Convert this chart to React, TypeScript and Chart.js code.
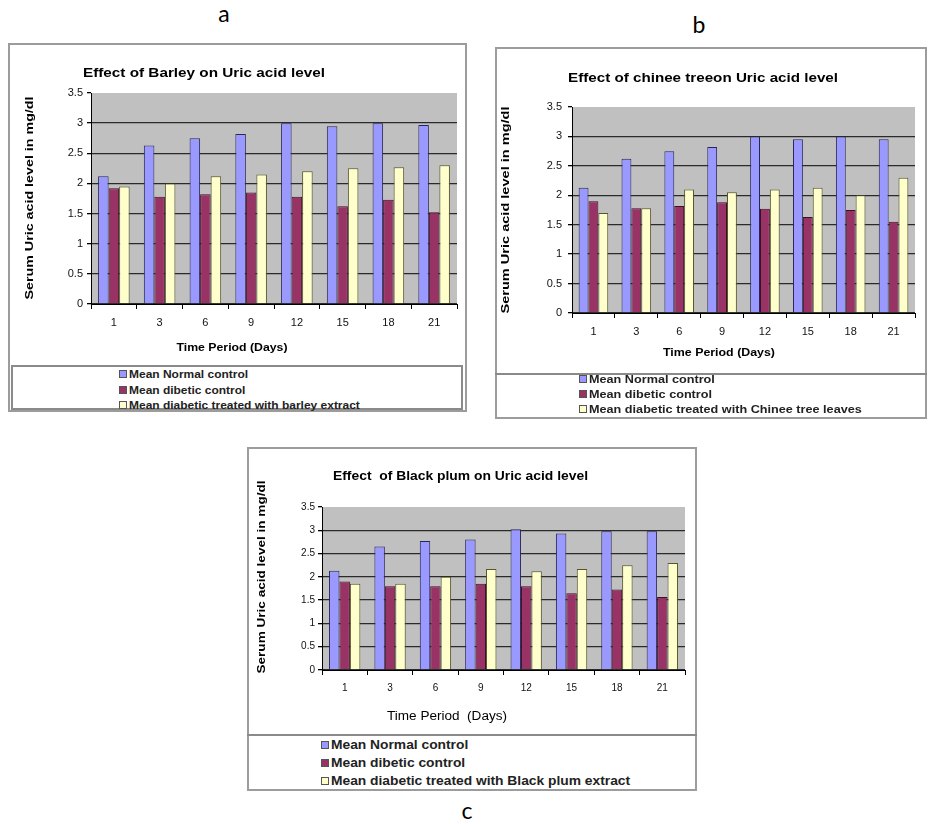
import React, { useEffect, useRef } from "react";
import { Chart, registerables } from "chart.js";

Chart.register(...registerables);

// ---------- data ----------
const days = ["1", "3", "6", "9", "12", "15", "18", "21"];

const seriesNames = ["Mean Normal control", "Mean dibetic control"];

const barleyNormal = [2.12, 2.63, 2.75, 2.82, 3.0, 2.95, 3.0, 2.97];
const barleyDiabetic = [1.92, 1.78, 1.82, 1.85, 1.78, 1.62, 1.73, 1.52];
const barleyTreated = [1.95, 2.0, 2.12, 2.15, 2.2, 2.25, 2.27, 2.3];

const chineeNormal = [2.13, 2.62, 2.75, 2.82, 3.0, 2.95, 3.0, 2.95];
const chineeDiabetic = [1.9, 1.78, 1.82, 1.88, 1.77, 1.63, 1.75, 1.55];
const chineeTreated = [1.7, 1.78, 2.1, 2.05, 2.1, 2.13, 2.0, 2.3];

const plumNormal = [2.13, 2.65, 2.77, 2.8, 3.02, 2.93, 2.98, 2.98];
const plumDiabetic = [1.9, 1.8, 1.8, 1.85, 1.8, 1.65, 1.73, 1.57];
const plumTreated = [1.85, 1.85, 2.0, 2.17, 2.12, 2.17, 2.25, 2.3];

const yMin = 0;
const yMax = 3.5;
const yStep = 0.5;

// ---------- styles ----------
const FONT = "'Liberation Sans', Arial, sans-serif";
const COLORS = ["#9999FF", "#993366", "#FFFFCC"];
const EDGES = ["#26265a", "#3a1026", "#55552a"];
const PLOT_BG = "#C0C0C0";

type TextItem = {
  text: string;
  x: number;
  y: number;
  font: string;
  align?: CanvasTextAlign;
  rotate?: boolean;
  width?: number;
};

const decorPlugin = {
  id: "panelDecor",
  beforeDraw(chart: any, _args: any, opts: any) {
    const { ctx, chartArea: a } = chart;
    ctx.save();
    ctx.fillStyle = opts.plotBg;
    ctx.fillRect(a.left, a.top, a.right - a.left, a.bottom - a.top);
    ctx.restore();
  },
  afterDraw(chart: any, _args: any, opts: any) {
    const { ctx } = chart;
    (opts.texts || []).forEach((t: TextItem) => {
      ctx.save();
      ctx.font = t.font;
      ctx.fillStyle = "#000";
      ctx.textBaseline = "middle";
      ctx.textAlign = t.align || "left";
      const m = ctx.measureText(t.text).width;
      const sx = t.width ? t.width / m : 1;
      ctx.translate(t.x, t.y);
      if (t.rotate) ctx.rotate(-Math.PI / 2);
      ctx.scale(sx, 1);
      ctx.fillText(t.text, 0, 0);
      ctx.restore();
    });
  },
};

type PanelProps = {
  box: { x: number; y: number; w: number; h: number };
  sepY: number;
  innerLegendBox?: boolean;
  yW: number;
  xH: number;
  topPad: number;
  rightPad: number;
  yTickPad: number;
  xTickPad: number;
  tickFont: number;
  texts: TextItem[];
  values: number[][];
  legendLabels: string[];
  legendRows: number[];
  legendX: number;
  legendFont: string;
  legendStretch: number;
};

function Panel(p: PanelProps) {
  const ref = useRef<HTMLCanvasElement | null>(null);
  const cw = p.box.w;
  const ch = p.sepY - p.box.y;

  useEffect(() => {
    if (!ref.current) return;
    const chart = new Chart(ref.current, {
      type: "bar",
      data: {
        labels: days,
        datasets: p.values.map((v, i) => ({
          label: p.legendLabels[i],
          data: v,
          backgroundColor: COLORS[i],
          borderColor: EDGES[i],
          borderWidth: 1,
          categoryPercentage: 0.69,
          barPercentage: 1.0,
        })),
      },
      options: {
        animation: false,
        responsive: false,
        devicePixelRatio: 1,
        layout: { padding: { left: 0, right: p.rightPad, top: p.topPad, bottom: 0 } },
        plugins: {
          legend: { display: false },
          title: { display: false },
          tooltip: { enabled: false },
          panelDecor: { plotBg: PLOT_BG, texts: p.texts },
        } as any,
        scales: {
          x: {
            afterFit: (s: any) => {
              s.height = p.xH;
            },
            grid: {
              offset: true,
              drawOnChartArea: false,
              drawTicks: true,
              tickLength: 5,
              color: "#000",
            },
            border: { display: true, color: "#000", width: 1 },
            ticks: {
              color: "#111",
              padding: p.xTickPad,
              font: { family: FONT, size: p.tickFont },
            },
          },
          y: {
            min: yMin,
            max: yMax,
            afterFit: (s: any) => {
              s.width = p.yW;
            },
            grid: {
              color: (c: any) =>
                c.tick && c.tick.value === yMax ? "rgba(0,0,0,0)" : "#2a2a2a",
              tickColor: "#000",
              tickLength: 4,
              drawTicks: true,
              lineWidth: 1.3,
            },
            border: { display: true, color: "#000", width: 1 },
            ticks: {
              stepSize: yStep,
              color: "#111",
              padding: p.yTickPad,
              font: { family: FONT, size: p.tickFont },
              callback: (v: any) => String(Number(v)),
            },
          },
        },
      },
      plugins: [decorPlugin as any],
    });
    return () => chart.destroy();
  }, []);

  return (
    <>
      <div
        style={{
          position: "absolute",
          left: p.box.x,
          top: p.box.y,
          width: p.box.w,
          height: p.box.h,
          border: "2px solid #9c9c9c",
          boxSizing: "border-box",
          background: "#fff",
        }}
      />
      <canvas
        ref={ref}
        width={cw}
        height={ch}
        style={{ position: "absolute", left: p.box.x, top: p.box.y, width: cw, height: ch }}
      />
      {p.innerLegendBox ? (
        <div
          style={{
            position: "absolute",
            left: p.box.x + 3,
            top: p.sepY,
            width: p.box.w - 7,
            height: p.box.y + p.box.h - p.sepY - 2,
            border: "2px solid #8a8a8a",
            boxSizing: "border-box",
          }}
        />
      ) : (
        <div
          style={{
            position: "absolute",
            left: p.box.x,
            top: p.sepY,
            width: p.box.w,
            height: 0,
            borderTop: "2px solid #8a8a8a",
          }}
        />
      )}
      {p.legendLabels.map((lab, i) => (
        <div
          key={i}
          style={{
            position: "absolute",
            left: p.legendX,
            top: p.legendRows[i] - 8,
            height: 16,
            display: "flex",
            alignItems: "center",
            whiteSpace: "nowrap",
            font: p.legendFont,
            color: "#222",
          }}
        >
          <span
            style={{
              display: "inline-block",
              width: 6,
              height: 6,
              background: COLORS[i],
              border: "1px solid #555",
              marginRight: 2,
            }}
          />
          <span
            style={{
              display: "inline-block",
              transform: `scaleX(${p.legendStretch})`,
              transformOrigin: "left center",
            }}
          >
            {lab}
          </span>
        </div>
      ))}
    </>
  );
}

export default function App() {
  const letter = (t: string, x: number, y: number) => (
    <div
      style={{
        position: "absolute",
        left: x - 20,
        top: y - 16,
        width: 40,
        height: 32,
        textAlign: "center",
        lineHeight: "32px",
        font: "23px Lato, 'Open Sans', sans-serif",
        color: "#000",
      }}
    >
      {t}
    </div>
  );

  return (
    <div style={{ position: "absolute", left: 0, top: 0, width: 930, height: 824, background: "#fff" }}>
      {letter("a", 224, 15)}
      {letter("b", 699, 26)}
      {letter("c", 467, 812)}
      <Panel
        box={{ x: 8, y: 43, w: 459, h: 369 }}
        sepY={365}
        innerLegendBox
        yW={83}
        xH={61}
        topPad={50}
        rightPad={10}
        yTickPad={4}
        xTickPad={7}
        tickFont={11}
        texts={[
          { text: "Effect of Barley on Uric acid level", x: 75, y: 30, font: `bold 13px ${FONT}`, width: 242 },
          { text: "Serum Uric acid level in mg/dl", x: 22, y: 155, font: `bold 11.5px ${FONT}`, align: "center", rotate: true, width: 203 },
          { text: "Time Period (Days)", x: 224, y: 305, font: `bold 11.5px ${FONT}`, align: "center", width: 111 },
        ]}
        values={[barleyNormal, barleyDiabetic, barleyTreated]}
        legendLabels={[...seriesNames, "Mean diabetic treated with barley extract"]}
        legendRows={[374, 390, 405]}
        legendX={119}
        legendFont={`bold 10.5px ${FONT}`}
        legendStretch={1.14}
      />
      <Panel
        box={{ x: 495, y: 47, w: 432, h: 372 }}
        sepY={373}
        yW={77}
        xH={60}
        topPad={60}
        rightPad={12}
        yTickPad={6}
        xTickPad={7}
        tickFont={11}
        texts={[
          { text: "Effect of chinee treeon Uric acid level", x: 73, y: 31, font: `bold 13px ${FONT}`, width: 270 },
          { text: "Serum Uric acid level in mg/dl", x: 11, y: 163, font: `bold 11.5px ${FONT}`, align: "center", rotate: true, width: 207 },
          { text: "Time Period (Days)", x: 224, y: 306, font: `bold 11.5px ${FONT}`, align: "center", width: 112 },
        ]}
        values={[chineeNormal, chineeDiabetic, chineeTreated]}
        legendLabels={[...seriesNames, "Mean diabetic treated with Chinee tree leaves"]}
        legendRows={[379, 394, 409]}
        legendX={579}
        legendFont={`bold 11px ${FONT}`}
        legendStretch={1.15}
      />
      <Panel
        box={{ x: 247, y: 447, w: 450, h: 344 }}
        sepY={734}
        yW={75}
        xH={64}
        topPad={60}
        rightPad={12}
        yTickPad={3}
        xTickPad={7}
        tickFont={10}
        texts={[
          { text: "Effect  of Black plum on Uric acid level", x: 86, y: 30, font: `bold 12px ${FONT}`, width: 255 },
          { text: "Serum Uric acid level in mg/dl", x: 15, y: 130, font: `bold 11.5px ${FONT}`, align: "center", rotate: true, width: 193 },
          { text: "Time Period  (Days)", x: 200, y: 270, font: `12px ${FONT}`, align: "center", width: 120 },
        ]}
        values={[plumNormal, plumDiabetic, plumTreated]}
        legendLabels={[...seriesNames, "Mean diabetic treated with Black plum extract"]}
        legendRows={[745, 763, 781]}
        legendX={321}
        legendFont={`bold 12px ${FONT}`}
        legendStretch={1.15}
      />
    </div>
  );
}
